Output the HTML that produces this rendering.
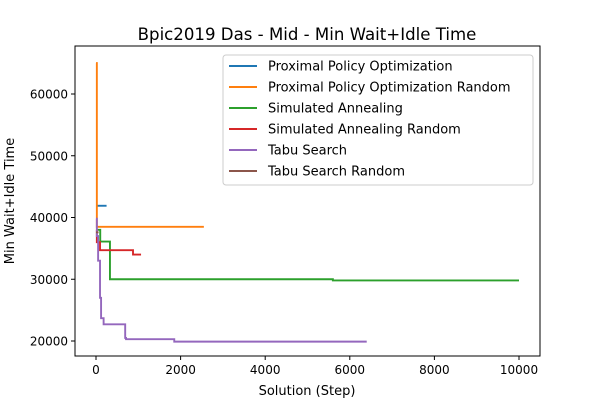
<!DOCTYPE html>
<html><head><meta charset="utf-8"><style>
body{margin:0;background:#fff;font-family:"DejaVu Sans","Liberation Sans",sans-serif}
svg text{font-family:"DejaVu Sans","Liberation Sans",sans-serif}
</style></head><body>
<svg id="chart" width="600" height="400">
<rect width="600" height="400" fill="#fff"/>
<text x="307" y="40" text-anchor="middle" font-size="16.6">Bpic2019 Das - Mid - Min Wait+Idle Time</text>
<g id="plot"></g>
<rect x="75" y="46" width="465" height="310" fill="none" stroke="#000" stroke-width="1"/>
<g id="ticks"></g>
<text x="307" y="395" text-anchor="middle" font-size="13">Solution (Step)</text>
<text transform="translate(14,201) rotate(-90)" text-anchor="middle" font-size="13">Min Wait+Idle Time</text>
<g id="legend"></g>
</svg>
<script>
const xTicks=[0,2000,4000,6000,8000,10000];
const yTicks=[20000,30000,40000,50000,60000];
const seriesNames=["Proximal Policy Optimization","Proximal Policy Optimization Random","Simulated Annealing","Simulated Annealing Random","Tabu Search","Tabu Search Random"];
const colors=["#1f77b4","#ff7f0e","#2ca02c","#d62728","#9467bd","#8c564b"];
const ppoX=[0,250];const ppoY=[41900,41900];
const ppoRX=[0,20,2550];const ppoRY=[65000,38500,38500];
const saX=[0,100,165,330,5600,10000];const saY=[38000,36100,36100,30000,29800,29800];
const saRX=[0,20,95,875,1065];const saRY=[38000,36000,34700,34000,34000];
const tsX=[0,20,50,95,120,180,690,710,1850,6400];const tsY=[39800,37000,33000,27000,23700,22700,20500,20300,19900,19900];
const tsRX=[0,60];const tsRY=[37600,37600];
const allX=[ppoX,ppoRX,saX,saRX,tsX,tsRX];const allY=[ppoY,ppoRY,saY,saRY,tsY,tsRY];
const sx=v=>96+v*(519-96)/10000;
const sy=v=>341-(v-20000)*(341-94)/40000;
const NS="http://www.w3.org/2000/svg";
const plot=document.getElementById('plot'),ticks=document.getElementById('ticks'),leg=document.getElementById('legend');
function mk(t,a){const e=document.createElementNS(NS,t);for(const k in a)e.setAttribute(k,a[k]);return e;}
xTicks.forEach(v=>{const l=mk('line',{x1:sx(v),x2:sx(v),y1:356,y2:360,stroke:'#000'});

ticks.appendChild(l);
const t=mk('text',{x:sx(v),y:374,'text-anchor':'middle','font-size':12});t.textContent=v;

ticks.appendChild(t);});
yTicks.forEach(v=>{const l=mk('line',{x1:71,x2:75,y1:sy(v),y2:sy(v),stroke:'#000'});

ticks.appendChild(l);
const t=mk('text',{x:68,y:sy(v)+4.5,'text-anchor':'end','font-size':12});t.textContent=v;

ticks.appendChild(t);});
allX.forEach((xs,i)=>{let d='';const ys=allY[i];
xs.forEach((x,j)=>{if(j===0)d+='M'+sx(x)+' '+sy(ys[j]);else d+=' H'+sx(x)+' V'+sy(ys[j]);});
const p=mk('path',{d:d,fill:'none',stroke:colors[i],'stroke-width':1.9});

plot.appendChild(p);});
const box=mk('rect',{x:223,y:55,width:310,height:130,rx:3,fill:'#fff','fill-opacity':0.8,stroke:'#ccc'});

leg.appendChild(box);
seriesNames.forEach((n,i)=>{const y=66+i*21;
const l=mk('line',{x1:229,x2:257,y1:y,y2:y,stroke:colors[i],'stroke-width':1.9});

leg.appendChild(l);
const t=mk('text',{x:268,y:y+4.5,'font-size':13});t.textContent=n;

leg.appendChild(t);});
</script>
</body></html>
